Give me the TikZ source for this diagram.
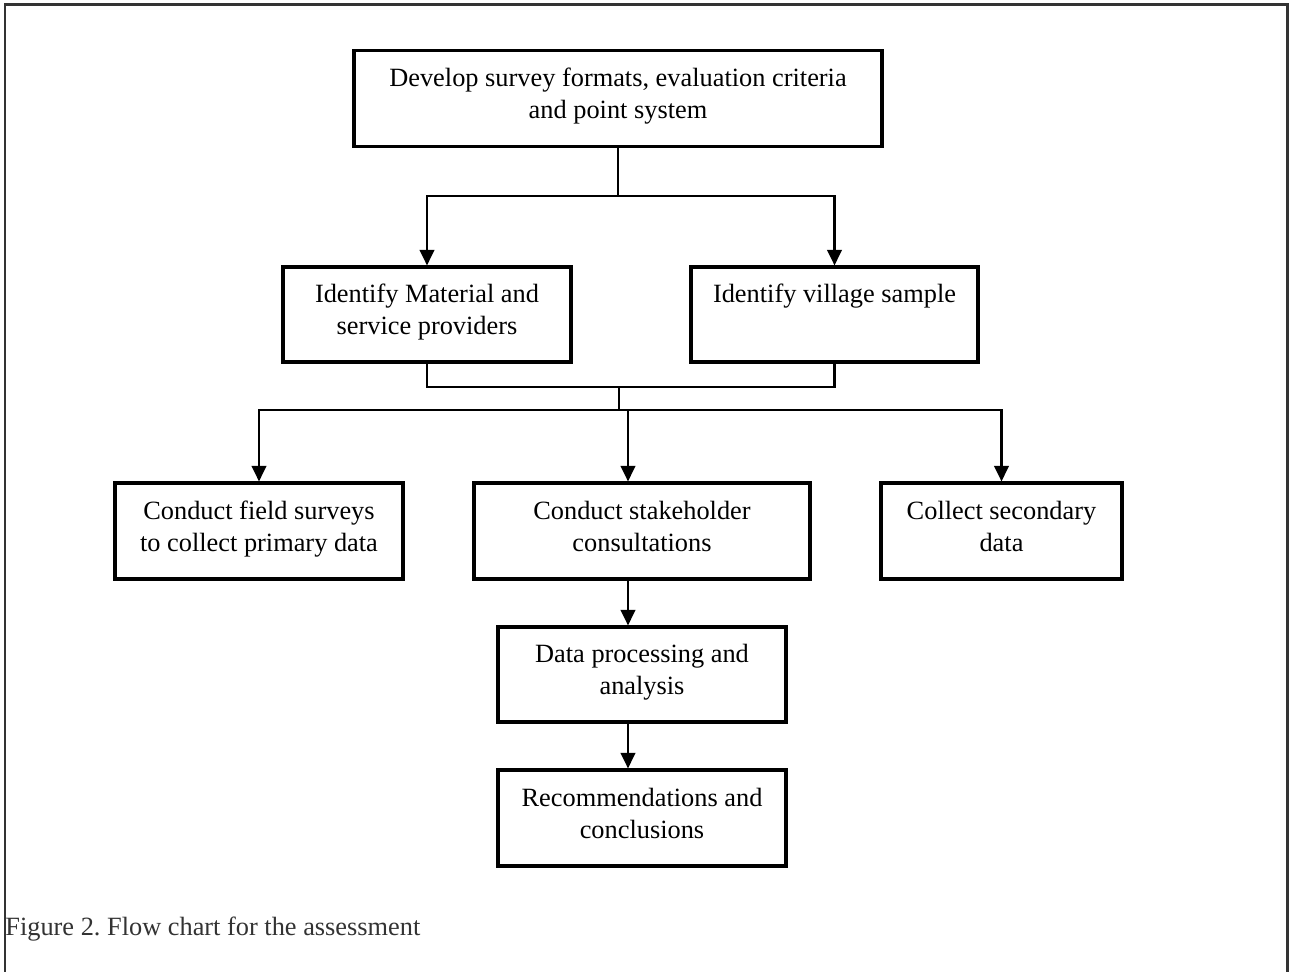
\documentclass[tikz,border=0pt]{standalone}
\usepackage{fontspec}
\setmainfont{Liberation Serif}
\usepackage{tikz}
\usetikzlibrary{arrows.meta}
\usetikzlibrary{calc}

\tikzset{
  box/.style={draw, line width=1.8pt, inner sep=0pt, align=center,
    font=\fontsize{15pt}{18.2pt}\selectfont,
    execute at begin node={\rule{0pt}{18.4pt}}, execute at end node=\strut},
  arr/.style={line width=1.3pt, -{Triangle[width=0.29cm,length=0.31cm]}},
  link/.style={line width=1.3pt}
}

\begin{document}
\frenchspacing
\begin{tikzpicture}[x=0.02cm, y=-0.02cm]
\useasboundingbox (0,0) rectangle (1290,972);
\draw[line width=1.7pt, black!80] (5,972) -- (5,5) -- (1287,5) -- (1287,972);

\node[box, minimum width=10.56cm, minimum height=1.92cm] (dev) at (618,98.5) {Develop survey formats, evaluation criteria\\and point system};

\node[box, minimum width=5.76cm, minimum height=1.9cm] (mat) at (427,314.5) {Identify Material and\\service providers};
\node[box, minimum width=5.74cm, minimum height=1.9cm] (vil) at (834.5,314.5) {Identify village sample\\};

\node[box, minimum width=5.76cm, minimum height=1.92cm] (field) at (259,531) {Conduct field surveys\\to collect primary data};
\node[box, minimum width=6.72cm, minimum height=1.92cm] (stake) at (642,531) {Conduct stakeholder\\consultations};
\node[box, minimum width=4.82cm, minimum height=1.92cm] (sec) at (1001.5,531) {Collect secondary\\data};

\node[box, minimum width=5.76cm, minimum height=1.9cm] (data) at (642,674.5) {Data processing and\\analysis};
\node[box, minimum width=5.76cm, minimum height=1.92cm] (rec) at (642,818) {Recommendations and\\conclusions};

\node[anchor=west, inner sep=0pt, text=black!80, font=\fontsize{15pt}{18pt}\selectfont] (cap) at (5,929) {Figure 2. Flow chart for the assessment};

% split after the first box
\coordinate (j1) at ($(dev.south)+(0,48)$);
\draw[link] (dev.south) -- (j1);
\draw[arr] (j1) -| (mat.north);
\draw[arr] (j1) -| (vil.north);

% join and split again
\coordinate (j2) at (619,387);
\coordinate (j3) at (619,410);
\draw[link] (mat.south) |- (j2) -| (vil.south);
\draw[link] (j2) -- (j3);
\draw[arr] (j3) -| (field.north);
\draw[arr] (j3) -| ([xshift=-0.28cm]stake.north);
\draw[arr] (j3) -| (sec.north);

% down the middle
\draw[arr] ([xshift=-0.28cm]stake.south) -- ([xshift=-0.28cm]data.north);
\draw[arr] ([xshift=-0.28cm]data.south) -- ([xshift=-0.28cm]rec.north);
\end{tikzpicture}
\end{document}
